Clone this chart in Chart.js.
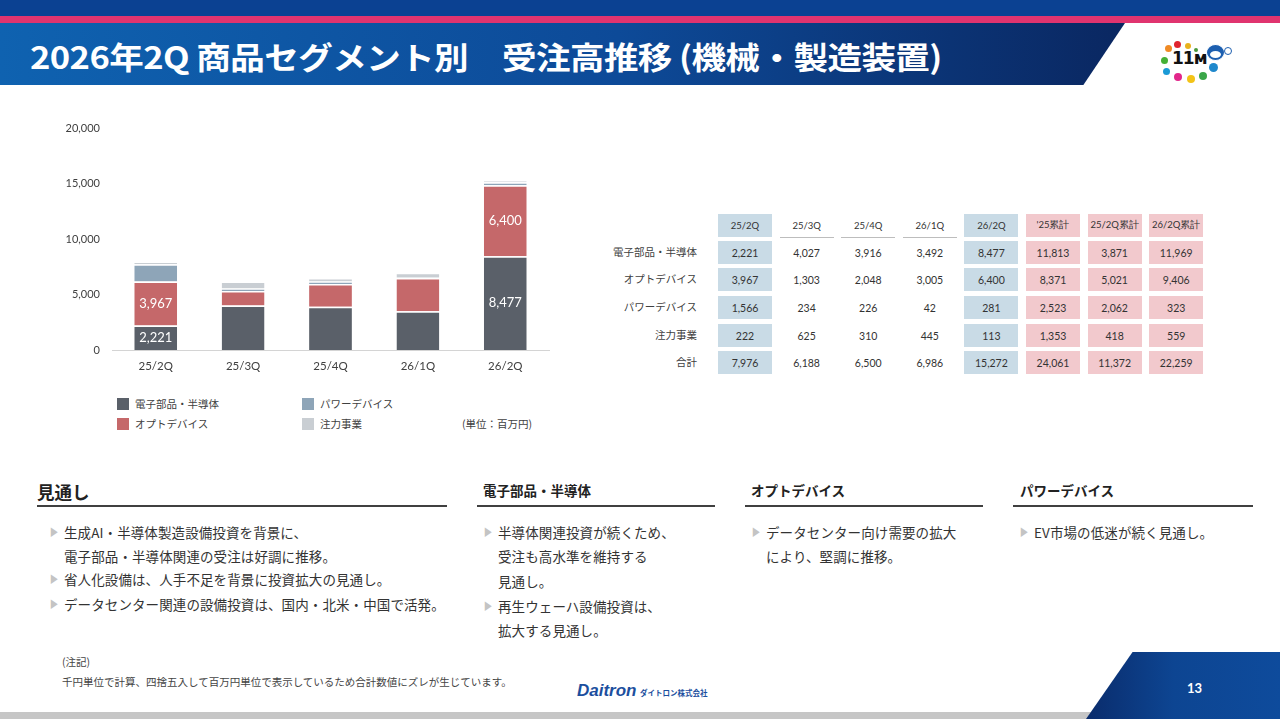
<!DOCTYPE html>
<html lang="ja">
<head>
<meta charset="utf-8">
<script src="https://cdn.jsdelivr.net/npm/chart.js@4.4.1/dist/chart.umd.min.js"></script>
<style>
  body { margin: 0; width: 1280px; height: 719px; position: relative; overflow: hidden; background: #fff; font-family: "Noto Sans CJK JP", sans-serif; color: #333; }
  .abs { position: absolute; }
  .top-band { left: 0; top: 0; width: 1280px; height: 16px; background: #0b4192; }
  .pink-band { left: 0; top: 16px; width: 1280px; height: 7px; background: #e0346f; }
  .title-band { left: 0; top: 23px; width: 1125px; height: 62px; background: linear-gradient(90deg, #0f62b0 0%, #0d4a98 55%, #0a2761 100%); clip-path: polygon(0 0, 100% 0, 96.3% 100%, 0 100%); }
  .title { left: 30px; top: 34px; color: #fff; font-weight: 700; font-size: 31px; line-height: 44px; white-space: nowrap; transform-origin: 0 50%; letter-spacing: -0.5px; }
  .chart-box { left: 50px; top: 110px; width: 510px; height: 270px; }
  .legend-sq { width: 12px; height: 12px; }
  .legend-tx { font-size: 10.5px; color: #404040; line-height: 12px; }
  .tbl-cell { width: 54px; height: 23px; font-family: Lato, sans-serif; font-size: 10.5px; color: #333; display: flex; align-items: center; justify-content: center; }
  .tbl-head { font-size: 9.5px; }
  .row-lbl { width: 120px; text-align: right; font-size: 10.5px; color: #404040; line-height: 14px; }
  .sec-head { font-weight: 700; color: #222; white-space: nowrap; }
  .sec-line { height: 2px; background: #404040; }
  .bul { font-size: 13.5px; color: #333; line-height: 16px; white-space: nowrap; letter-spacing: 0.1px; }
  .tri { position: absolute; color: #c4c4c4; font-size: 10px; line-height: 16px; transform: scaleX(0.85); }
  .note { font-size: 10.5px; color: #444; white-space: nowrap; }
  .dot { border-radius: 50%; position: absolute; }
</style>
</head>
<body>

<div class="abs top-band"></div>
<div class="abs pink-band"></div>
<div class="abs title-band"></div>
<div class="abs title" id="title">2026年2Q 商品セグメント別　受注高推移 (機械・製造装置)</div>

<!-- logo -->
<div class="abs" style="left:1160px; top:38px; width:80px; height:46px;">
  <div class="dot" style="left:14px; top:3px; width:7px; height:7px; background:#e0242f;"></div>
  <div class="dot" style="left:5px; top:7px; width:7px; height:7px; background:#f08a24;"></div>
  <div class="dot" style="left:25px; top:5px; width:6px; height:6px; background:#e8b21c;"></div>
  <div class="dot" style="left:34px; top:10px; width:4px; height:4px; background:#4b9a3c;"></div>
  <div class="dot" style="left:1px; top:19px; width:7px; height:7px; background:#45b035;"></div>
  <div class="dot" style="left:3px; top:30px; width:7px; height:7px; background:#1a9ad6;"></div>
  <div class="dot" style="left:14px; top:35px; width:8px; height:8px; background:#e2268a;"></div>
  <div class="dot" style="left:27px; top:37px; width:8px; height:8px; background:#f3c317;"></div>
  <div class="dot" style="left:39px; top:34px; width:8px; height:8px; background:#3aa648;"></div>
  <div class="dot" style="left:49px; top:25px; width:9px; height:9px; background:#1f88cc;"></div>
  <div class="abs" style="left:12px; top:10px; font-family:'DejaVu Sans'; font-weight:900; font-size:17px; color:#111; letter-spacing:-1px;">11м</div>
  <div class="dot" style="left:46px; top:6px; width:17px; height:15px; background:#1d5fb0; border:1px solid #fff;"></div>
  <div class="dot" style="left:50px; top:13px; width:11px; height:7px; background:#fff;"></div>
  <div class="dot" style="left:64px; top:9px; width:6px; height:6px; background:#fff; border:1px solid #1d5fb0;"></div>
</div>

<!-- chart -->
<div class="abs chart-box"><canvas id="myChart"></canvas></div>

<div id="legend"></div>
<div class="abs legend-tx" style="left:462px; top:418px;">(単位：百万円)</div>

<div id="table"></div>

<!-- outlook -->
<div class="abs sec-head" style="left:37px; top:479px; font-size:17.5px;">見通し</div>
<div class="abs sec-line" style="left:37px; top:505px; width:410px;"></div>
<div class="abs sec-head" style="left:483px; top:480px; font-size:13.5px;">電子部品・半導体</div>
<div class="abs sec-line" style="left:477px; top:505px; width:238px;"></div>
<div class="abs sec-head" style="left:751px; top:480px; font-size:13.5px;">オプトデバイス</div>
<div class="abs sec-line" style="left:745px; top:505px; width:238px;"></div>
<div class="abs sec-head" style="left:1020px; top:480px; font-size:13.5px;">パワーデバイス</div>
<div class="abs sec-line" style="left:1013px; top:505px; width:240px;"></div>

<div class="abs tri" style="left:49px; top:524px;">▶</div>
<div class="abs bul" style="left:64px; top:524px;">生成AI・半導体製造設備投資を背景に、</div>
<div class="abs bul" style="left:64px; top:548px;">電子部品・半導体関連の受注は好調に推移。</div>
<div class="abs tri" style="left:49px; top:571px;">▶</div>
<div class="abs bul" style="left:64px; top:571px;">省人化設備は、人手不足を背景に投資拡大の見通し。</div>
<div class="abs tri" style="left:49px; top:596px;">▶</div>
<div class="abs bul" style="left:64px; top:596px;">データセンター関連の設備投資は、国内・北米・中国で活発。</div>

<div class="abs tri" style="left:483px; top:524px;">▶</div>
<div class="abs bul" style="left:498px; top:524px;">半導体関連投資が続くため、</div>
<div class="abs bul" style="left:498px; top:548px;">受注も高水準を維持する</div>
<div class="abs bul" style="left:498px; top:573px;">見通し。</div>
<div class="abs tri" style="left:483px; top:598px;">▶</div>
<div class="abs bul" style="left:498px; top:598px;">再生ウェーハ設備投資は、</div>
<div class="abs bul" style="left:498px; top:622px;">拡大する見通し。</div>

<div class="abs tri" style="left:751px; top:524px;">▶</div>
<div class="abs bul" style="left:766px; top:524px;">データセンター向け需要の拡大</div>
<div class="abs bul" style="left:766px; top:548px;">により、堅調に推移。</div>

<div class="abs tri" style="left:1019px; top:524px;">▶</div>
<div class="abs bul" style="left:1034px; top:524px;">EV市場の低迷が続く見通し。</div>

<!-- footer -->
<div class="abs note" style="left:62px; top:654px;">(注記)</div>
<div class="abs note" style="left:62px; top:674px;">千円単位で計算、四捨五入して百万円単位で表示しているため合計数値にズレが生じています。</div>
<div class="abs" style="left:577px; top:677px; white-space:nowrap;">
  <span style="font-family:'Liberation Sans'; font-weight:700; font-style:italic; font-size:17px; color:#1c4f9e;">Daitron</span>
  <span style="font-size:7.5px; font-weight:700; color:#1c4f9e;">ダイトロン株式会社</span>
</div>
<div class="abs" style="left:0; top:712px; width:1100px; height:7px; background:#c6c6c6;"></div>
<div class="abs" style="left:1086px; top:652px; width:194px; height:67px; background:linear-gradient(90deg, #0a2c6c 0%, #0d4592 45%, #0e4b9c 100%); clip-path:polygon(24% 0, 100% 0, 100% 100%, 0 100%); border-top-left-radius:14px;"></div>
<div class="abs" style="left:1187px; top:680px; color:#fff; font-family:Lato, sans-serif; font-size:13px; font-weight:700;">13</div>

<script>
// chart data
const quarters = ['25/2Q', '25/3Q', '25/4Q', '26/1Q', '26/2Q'];
const seriesNames = ['電子部品・半導体', 'オプトデバイス', 'パワーデバイス', '注力事業'];
const seriesColors = ['#5a6069', '#c5686a', '#8ea5b8', '#c9ced3'];

const electronics = [2221, 4027, 3916, 3492, 8477];
const optDevice = [3967, 1303, 2048, 3005, 6400];
const powerDevice = [1566, 234, 226, 42, 281];
const focusBiz = [222, 625, 310, 445, 113];
const totals = [7976, 6188, 6500, 6986, 15272];

// cumulative columns of the table
const cumHeads = ["'25累計", '25/2Q累計', '26/2Q累計'];
const cum25 = [11813, 8371, 2523, 1353, 24061];
const cum25by2Q = [3871, 5021, 2062, 418, 11372];
const cum26by2Q = [11969, 9406, 323, 559, 22259];

const yTicks = [0, 5000, 10000, 15000, 20000];

// bars that carry a value label
const labelQuarters = [0, 4];
const labelSeries = [0, 1];

const fmt = v => v.toLocaleString('en-US');

// title fits the band width
const title = document.getElementById('title');
title.style.transform = 'scaleX(' + (912 / title.offsetWidth) + ')';

// value labels inside segments
const segmentLabels = {
    id: 'segmentLabels',
    afterDatasetsDraw(chart) {
        const c = chart.ctx;
        c.save();
        c.fillStyle = '#fff';
        c.font = '13px Lato';
        c.textAlign = 'center';
        c.textBaseline = 'middle';
        labelSeries.forEach(s => {
            const meta = chart.getDatasetMeta(s);
            labelQuarters.forEach(q => {
                const bar = meta.data[q];
                c.fillText(fmt(chart.data.datasets[s].data[q]), bar.x, (bar.y + bar.base) / 2);
            });
        });
        c.restore();
    }
};

const ctx = document.getElementById('myChart');
const seriesData = [electronics, optDevice, powerDevice, focusBiz];

new Chart(ctx, {
    type: 'bar',
    data: {
        labels: quarters,
        datasets: seriesData.map((d, i) => ({
            label: seriesNames[i],
            data: d,
            backgroundColor: seriesColors[i],
            borderColor: '#ffffff',
            borderWidth: { top: 1.5, left: 0, right: 0, bottom: 0 },
            borderSkipped: false,
            categoryPercentage: 1,
            barPercentage: 0.49
        }))
    },
    options: {
        responsive: true,
        maintainAspectRatio: false,
        animation: false,
        layout: { padding: { top: 16, right: 11, left: 0, bottom: 0 } },
        scales: {
            x: {
                stacked: true,
                grid: { display: false, drawTicks: false },
                border: { color: '#d4d4d4', width: 1 },
                ticks: { color: '#404040', font: { family: 'Lato', size: 11.5 }, padding: 9 },
                afterFit: scale => { scale.height = 30; }
            },
            y: {
                stacked: true,
                min: 0,
                max: 20000,
                afterBuildTicks: scale => { scale.ticks = yTicks.map(v => ({ value: v })); },
                grid: { display: false, drawTicks: false },
                border: { display: false },
                ticks: {
                    color: '#404040',
                    font: { family: 'Lato', size: 11 },
                    padding: 12,
                    callback: value => fmt(value)
                },
                afterFit: scale => { scale.width = 62; }
            }
        },
        plugins: {
            legend: { display: false },
            tooltip: { enabled: false }
        }
    },
    plugins: [segmentLabels]
});

// legend (2 x 2)
const legendPos = [[117, 398], [117, 418], [302, 398], [302, 418]];
let legendHtml = '';
seriesNames.forEach((name, i) => {
    const [x, y] = legendPos[i];
    legendHtml += '<div class="abs legend-sq" style="left:' + x + 'px; top:' + y + 'px; background:' + seriesColors[i] + ';"></div>';
    legendHtml += '<div class="abs legend-tx" style="left:' + (x + 18) + 'px; top:' + y + 'px;">' + name + '</div>';
});
document.getElementById('legend').innerHTML = legendHtml;

// table
const tableHeads = quarters.concat(cumHeads);
const rowNames = seriesNames.concat(['合計']);
const rowValues = rowNames.map((n, r) => {
    const q = r < 4 ? seriesData[r] : totals;
    return q.concat([cum25[r], cum25by2Q[r], cum26by2Q[r]]);
});
const colLeft = i => 718 + i * 61.6;
const rowTop = [214, 241, 268, 296, 324, 351];
const cellBg = i => (i === 0 || i === 4) ? '#c9dbe6' : (i >= 5 ? '#f2c9cd' : 'transparent');

let tableHtml = '';
tableHeads.forEach((h, i) => {
    const bg = cellBg(i);
    const line = bg === 'transparent' ? 'border-bottom:1.5px solid #bdbdbd;' : '';
    tableHtml += '<div class="abs tbl-cell tbl-head" style="left:' + colLeft(i) + 'px; top:' + rowTop[0] + 'px; background:' + bg + ';' + line + '">' + h + '</div>';
});
rowValues.forEach((vals, r) => {
    tableHtml += '<div class="abs row-lbl" style="left:577px; top:' + (rowTop[r + 1] + 4) + 'px;">' + rowNames[r] + '</div>';
    vals.forEach((v, i) => {
        tableHtml += '<div class="abs tbl-cell" style="left:' + colLeft(i) + 'px; top:' + rowTop[r + 1] + 'px; background:' + cellBg(i) + ';">' + fmt(v) + '</div>';
    });
});
document.getElementById('table').innerHTML = tableHtml;
</script>
</body>
</html>
